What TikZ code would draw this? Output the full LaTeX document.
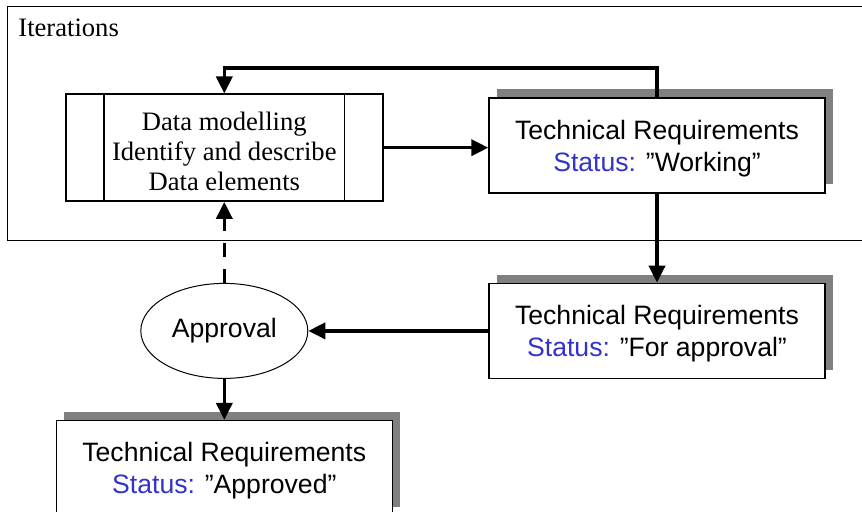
\documentclass[tikz,border=0pt]{standalone}
\usepackage{fontspec}
\setmainfont{Liberation Serif}
\newfontfamily\arialfont{Liberation Sans}
\usepackage{tikz}
\usetikzlibrary{arrows.meta,positioning,shapes.geometric,shadows}
\definecolor{statusblue}{RGB}{51,51,204}
\definecolor{shadowgray}{RGB}{128,128,128}

\begin{document}
\begin{tikzpicture}[>={Triangle[length=8.5pt,width=8pt]},
  conn/.style={->,line width=1.8pt},
  req node/.style={rectangle,draw,line width=0.7pt,fill=white,
    minimum width=168pt,minimum height=47.5pt,inner sep=0pt,align=center,
    text depth=0pt,
    font=\arialfont\fontsize{13.3pt}{16pt}\selectfont,
    drop shadow={shadow xshift=4pt,shadow yshift=4.25pt,fill=shadowgray,opacity=1}},
  process node/.style={rectangle,draw,line width=0.7pt,
    minimum width=158.5pt,minimum height=53.5pt,inner sep=0pt,align=center,
    font=\fontsize{13.3pt}{15pt}\selectfont},
  decision node/.style={ellipse,draw,line width=0.5pt,
    minimum width=83.5pt,minimum height=47.5pt,inner sep=0pt,
    font=\arialfont\fontsize{13.3pt}{15pt}\selectfont}]

  \useasboundingbox (0,0) rectangle (431pt,-256pt);
  \clip (0,0) rectangle (431pt,-256pt);

  % iteration frame
  \draw[line width=0.5pt] (3.5pt,-3.5pt) rectangle (440pt,-120.5pt);
  \node[anchor=base west,inner sep=0pt,font=\fontsize{13.3pt}{15pt}\selectfont] (iter) at (9pt,-18.5pt) {Iterations};

  \node[req node] (work) at (328.5pt,-72.75pt) {Technical Requirements\\\textcolor{statusblue}{Status:} ”Working”};
  \node[req node] (review) [below=44.5pt of work] {Technical Requirements\\\textcolor{statusblue}{Status:} ”For approval”};
  \node[decision node] (approval) [left=90pt of review] {Approval};
  \node[process node] (model) [above=40.5pt of approval] {\rule{0pt}{13pt}Data modelling\\Identify and describe\\Data elements};
  \node[req node] (approved) [below=20.5pt of approval] {Technical Requirements\\\textcolor{statusblue}{Status:} ”Approved”};

  % side bars of the process box
  \foreach \top/\bot/\dx in {north west/south west/19.5pt, north east/south east/-19.5pt}
    \draw[line width=0.7pt] ([xshift=\dx]model.\top) -- ([xshift=\dx]model.\bot);

  \draw[conn] (work.north) -- ++(0,14.5pt) -| (model.north);
  \draw[conn] (model.east) -- (model.east -| work.west);
  \draw[conn] (work) -- (review);
  \draw[conn] (review) -- (approval);
  \draw[conn,dash pattern=on 7pt off 6pt] (approval) -- (model);
  \draw[conn] (approval) -- (approved);
\end{tikzpicture}
\end{document}
